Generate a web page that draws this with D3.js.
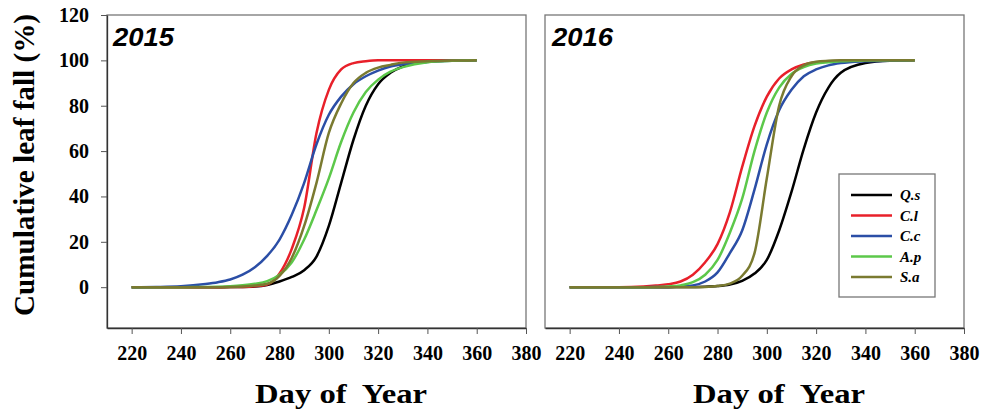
<!DOCTYPE html>
<html>
<head>
<meta charset="utf-8">
<script src="https://cdn.jsdelivr.net/npm/d3@7"></script>
<style>
  body { margin: 0; background: #fff; }
  text { font-family: "Liberation Serif", "Times New Roman", serif; font-weight: bold; }
</style>
</head>
<body>
<svg id="chart" width="986" height="413"></svg>
<script>
// data (cumulative leaf fall, %)
var days = [220, 230, 240, 250, 255, 260, 265, 270, 275, 280, 285, 290, 295, 300, 305, 310, 315, 320, 325, 330, 340, 350, 360];
var speciesNames = ["Q.s", "C.l", "C.c", "A.p", "S.a"];
var speciesColors = ["#000000", "#e8202a", "#2b4ea6", "#5cc84a", "#7a7a30"];
var xTicks = [220, 240, 260, 280, 300, 320, 340, 360, 380];
var yTicks = [0, 20, 40, 60, 80, 100, 120];
var years = ["2015", "2016"];

var qs2015 = [0, 0, 0, 0, 0, 0.05, 0.1, 0.3, 1, 2.5, 4.5, 7.5, 13.5, 27, 46, 65, 80, 89.5, 94.5, 97.3, 99.4, 99.9, 100];
var cl2015 = [0, 0, 0, 0, 0, 0.05, 0.1, 0.4, 1.2, 6, 17, 35, 68, 87, 96, 98.8, 99.6, 100, 100, 100, 100, 100, 100];
var cc2015 = [0, 0.1, 0.4, 1.4, 2.2, 3.4, 5.5, 8.8, 13.8, 21, 32, 46, 63, 76, 84, 89.5, 93, 95.5, 97.3, 98.3, 99.3, 99.8, 100];
var ap2015 = [0, 0, 0, 0.1, 0.2, 0.4, 0.8, 1.5, 2.7, 5.5, 11, 21, 34, 48, 64, 77, 86, 91.5, 95, 97, 99.2, 99.8, 100];
var sa2015 = [0, 0, 0, 0, 0, 0.1, 0.3, 0.7, 1.5, 5, 13, 27, 46, 68, 81, 90, 94.5, 96.8, 98, 99, 99.6, 99.9, 100];

var qs2016 = [0, 0, 0, 0, 0, 0, 0.05, 0.1, 0.2, 0.5, 1.2, 2.8, 6, 12, 25, 42, 61, 77, 88, 94.5, 98.8, 99.8, 100];
var cl2016 = [0, 0, 0, 0.3, 0.7, 1.3, 2.5, 5.5, 11, 19, 33, 53, 71, 84, 92, 96, 98.2, 99.2, 99.6, 99.8, 100, 100, 100];
var cc2016 = [0, 0, 0, 0, 0.05, 0.1, 0.3, 0.8, 2.5, 6.5, 15, 25, 43, 63, 78, 87, 93, 96, 97.8, 98.8, 99.6, 99.9, 100];
var ap2016 = [0, 0, 0, 0, 0.1, 0.3, 0.8, 2.2, 5.5, 12, 24, 39, 60, 77, 88, 94, 97, 98.6, 99.2, 99.6, 99.9, 100, 100];
var sa2016 = [0, 0, 0, 0, 0, 0, 0, 0, 0.1, 0.5, 1.6, 5, 15, 48, 80, 93, 97.8, 99.4, 99.8, 100, 100, 100, 100];

var yearSeries = [
  [qs2015, cl2015, cc2015, ap2015, sa2015],
  [qs2016, cl2016, cc2016, ap2016, sa2016]
];

var svg = d3.select("#chart");
var panelLeft = [107, 545];
var panelWidth = 419;
var marginTop = 15;
var marginBottom = 328;

years.forEach(function(year, p) {
  var x0 = panelLeft[p];
  var xScale = d3.scaleLinear().domain([210, 380]).range([x0, x0 + panelWidth]);
  var yScale = d3.scaleLinear().domain([-18, 120]).range([marginBottom, marginTop]);
  var g = svg.append("g");

  // frame
  g.append("rect")
    .attr("x", x0).attr("y", marginTop)
    .attr("width", panelWidth).attr("height", marginBottom - marginTop)
    .attr("fill", "none").attr("stroke", "#777").attr("stroke-width", 1.3);

  // x axis
  var xAxis = g.append("g")
    .attr("transform", "translate(0," + marginBottom + ")")
    .call(d3.axisBottom(xScale).tickValues(xTicks).tickSize(6).tickPadding(12).tickSizeOuter(0));
  xAxis.select(".domain").attr("stroke", "#333").attr("stroke-width", 1.3);
  xAxis.selectAll(".tick line").attr("stroke", "#555");
  xAxis.selectAll("text")
    .attr("font-size", 20).attr("fill", "#000")
    .style("font-family", "Liberation Serif").style("font-weight", "bold");

  // y axis only on the first panel
  if (p == 0) {
    var yAxis = g.append("g")
      .attr("transform", "translate(" + x0 + ",0)")
      .call(d3.axisLeft(yScale).tickValues(yTicks).tickSize(6).tickPadding(12).tickSizeOuter(0));
    yAxis.select(".domain").attr("stroke", "#333").attr("stroke-width", 1.3);
    yAxis.selectAll(".tick line").attr("stroke", "#555");
    yAxis.selectAll("text")
      .attr("font-size", 20).attr("fill", "#000")
      .style("font-family", "Liberation Serif").style("font-weight", "bold");
  }

  // curves
  var line = d3.line()
    .x(function(d, i) { return xScale(days[i]); })
    .y(function(d) { return yScale(d); })
    .curve(d3.curveMonotoneX);

  g.selectAll("path.curve")
    .data(yearSeries[p])
    .enter()
    .append("path")
    .attr("class", "curve")
    .attr("d", function(d) { return line(d); })
    .attr("fill", "none")
    .attr("stroke", function(d, i) { return speciesColors[i]; })
    .attr("stroke-width", 2.5);

  // year label
  g.append("text")
    .attr("x", x0 + 6 + (p == 0 ? 0 : 1))
    .attr("y", 46)
    .attr("font-size", 25)
    .attr("textLength", 61)
    .attr("lengthAdjust", "spacingAndGlyphs")
    .style("font-family", "Liberation Sans")
    .style("font-style", "italic")
    .text(year);

  // x axis title
  g.append("text")
    .attr("x", x0 + 148)
    .attr("y", 403)
    .attr("font-size", 28)
    .attr("textLength", 172)
    .attr("lengthAdjust", "spacingAndGlyphs")
    .style("white-space", "pre")
    .text("Day of  Year");
});

// y axis title
svg.append("text")
  .attr("transform", "translate(34,165) rotate(-90)")
  .attr("text-anchor", "middle")
  .attr("font-size", 30)
  .attr("textLength", 302)
  .attr("lengthAdjust", "spacingAndGlyphs")
  .text("Cumulative leaf fall (%)");

// legend (second panel)
var legend = svg.append("g");
legend.append("rect")
  .attr("x", 839).attr("y", 174)
  .attr("width", 96).attr("height", 123)
  .attr("fill", "#fff").attr("stroke", "#777").attr("stroke-width", 1.3);

legend.selectAll("line.key")
  .data(speciesNames)
  .enter()
  .append("line")
  .attr("class", "key")
  .attr("x1", 851).attr("x2", 892)
  .attr("y1", function(d, i) { return 195 + 20.5 * i; })
  .attr("y2", function(d, i) { return 195 + 20.5 * i; })
  .attr("stroke", function(d, i) { return speciesColors[i]; })
  .attr("stroke-width", 2.5);

legend.selectAll("text.key")
  .data(speciesNames)
  .enter()
  .append("text")
  .attr("class", "key")
  .attr("x", 900)
  .attr("y", function(d, i) { return 200 + 20.5 * i; })
  .attr("font-size", 15)
  .style("font-style", "italic")
  .text(function(d) { return d; });
</script>
</body>
</html>
